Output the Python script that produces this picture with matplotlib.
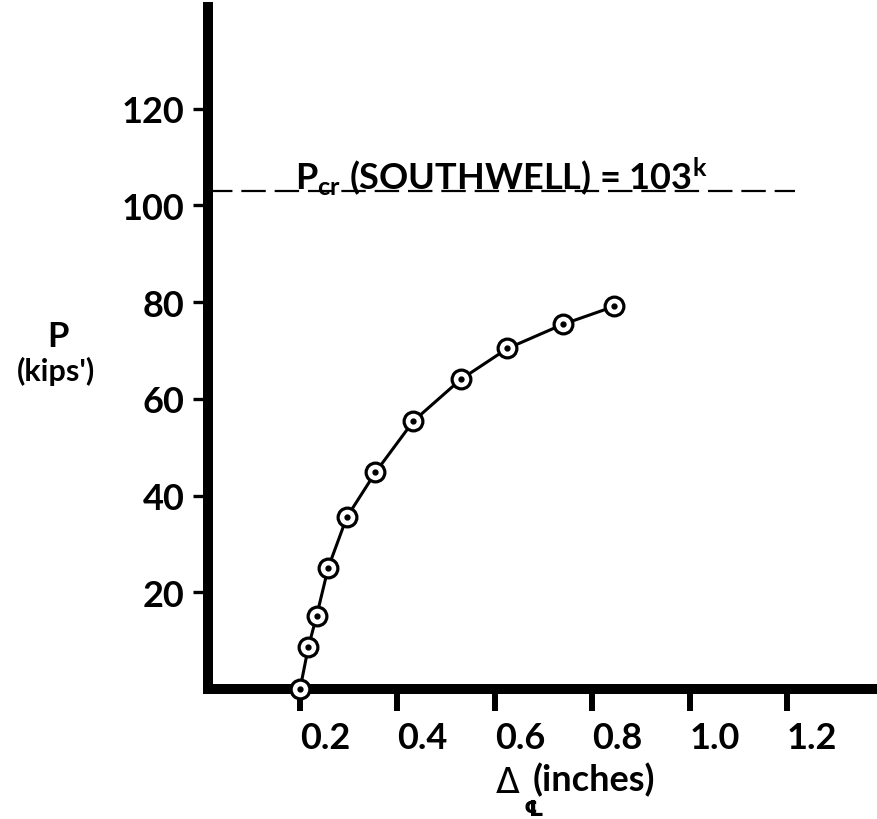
import matplotlib
matplotlib.use("Agg")
import matplotlib.pyplot as plt
import matplotlib.transforms as mtransforms

# Load-deflection test data
deflection_in = [0.200, 0.217, 0.234, 0.258, 0.296, 0.355, 0.433, 0.530, 0.626, 0.740, 0.845]
load_kips = [0.0, 8.6, 15.1, 25.1, 35.5, 44.8, 55.4, 64.0, 70.4, 75.4, 79.1]

# Southwell critical load
P_CR = 103

x_ticks = [0.2, 0.4, 0.6, 0.8, 1.0, 1.2]
x_tick_labels = ["0.2", "0.4", "0.6", "0.8", "1.0", "1.2"]
y_ticks = [20, 40, 60, 80, 100, 120]
y_tick_labels = ["20", "40", "60", "80", "100", "120"]

FONT = ["Lato", "DejaVu Sans"]
plt.rcParams["font.family"] = FONT
plt.rcParams["font.weight"] = "bold"
plt.rcParams["mathtext.fontset"] = "custom"
plt.rcParams["mathtext.rm"] = "Lato:bold"
plt.rcParams["mathtext.bf"] = "Lato:bold"
plt.rcParams["mathtext.it"] = "Lato:bold"

W, H = 878, 820
fig = plt.figure(figsize=(W / 100, H / 100), dpi=100)
fig.patch.set_facecolor("white")

ax = fig.add_axes([208 / W, 1 - 690 / H, 1 - 208 / W, (690 - 8) / H])
ax.set_xlim(0.011, 1.387)
ax.set_ylim(0, 141)

for side in ("top", "right"):
    ax.spines[side].set_visible(False)
for side in ("left", "bottom"):
    ax.spines[side].set_linewidth(7.2)
    ax.spines[side].set_color("black")

ax.set_xticks(x_ticks)
ax.set_xticklabels(x_tick_labels)
ax.set_yticks(y_ticks)
ax.set_yticklabels(y_tick_labels)
ax.tick_params(axis="x", direction="out", length=16, width=4.3, pad=7,
               labelsize=26, colors="black")
ax.tick_params(axis="y", direction="out", length=11, width=2.4, pad=6,
               labelsize=26, colors="black")
for lbl in ax.get_xticklabels():
    lbl.set_ha("left")
    lbl.set_fontweight("bold")
for lbl in ax.get_yticklabels():
    lbl.set_fontweight("bold")

# Southwell line
ax.hlines(P_CR, 0.011, 1.216, colors="black", linewidth=1.6,
          linestyles=(0, (11, 4)), zorder=2)
offset = mtransforms.offset_copy(ax.transData, fig=fig, x=0, y=3, units="dots")
ax.text(0.19, P_CR, r"P$_{\mathrm{cr}}$ (SOUTHWELL) = 103$^{\mathrm{k}}$",
        transform=offset, ha="left", va="baseline", fontsize=26,
        fontweight="bold", color="black")

# Test curve
ax.plot(deflection_in, load_kips, "-", color="black", linewidth=2.2,
        zorder=3, clip_on=False)
ax.plot(deflection_in, load_kips, "o", markersize=13.5, markerfacecolor="white",
        markeredgecolor="black", markeredgewidth=2.3, zorder=4, clip_on=False)
ax.plot(deflection_in, load_kips, "o", markersize=3.5, color="black",
        zorder=5, clip_on=False)

# Axis titles
fig.text(58 / W, 1 - 347 / H, "P", ha="center", va="baseline",
         fontsize=25, fontweight="bold")
fig.text(56 / W, 1 - 381 / H, "(kips')", ha="center", va="baseline",
         fontsize=22, fontweight="bold")

fig.text(496 / W, 1 - 793 / H, "\u0394", ha="left", va="baseline",
         fontsize=25, family=["DejaVu Sans"], fontweight="normal")
fig.text(524 / W, 1 - 816 / H, "\u2104", ha="left", va="baseline",
         fontsize=16, family=["DejaVu Sans", "Noto Sans"], fontweight="bold")
fig.text(533 / W, 1 - 791 / H, "(inches)", ha="left", va="baseline",
         fontsize=26, fontweight="bold")

fig.savefig("out.png", dpi=100, facecolor="white")
